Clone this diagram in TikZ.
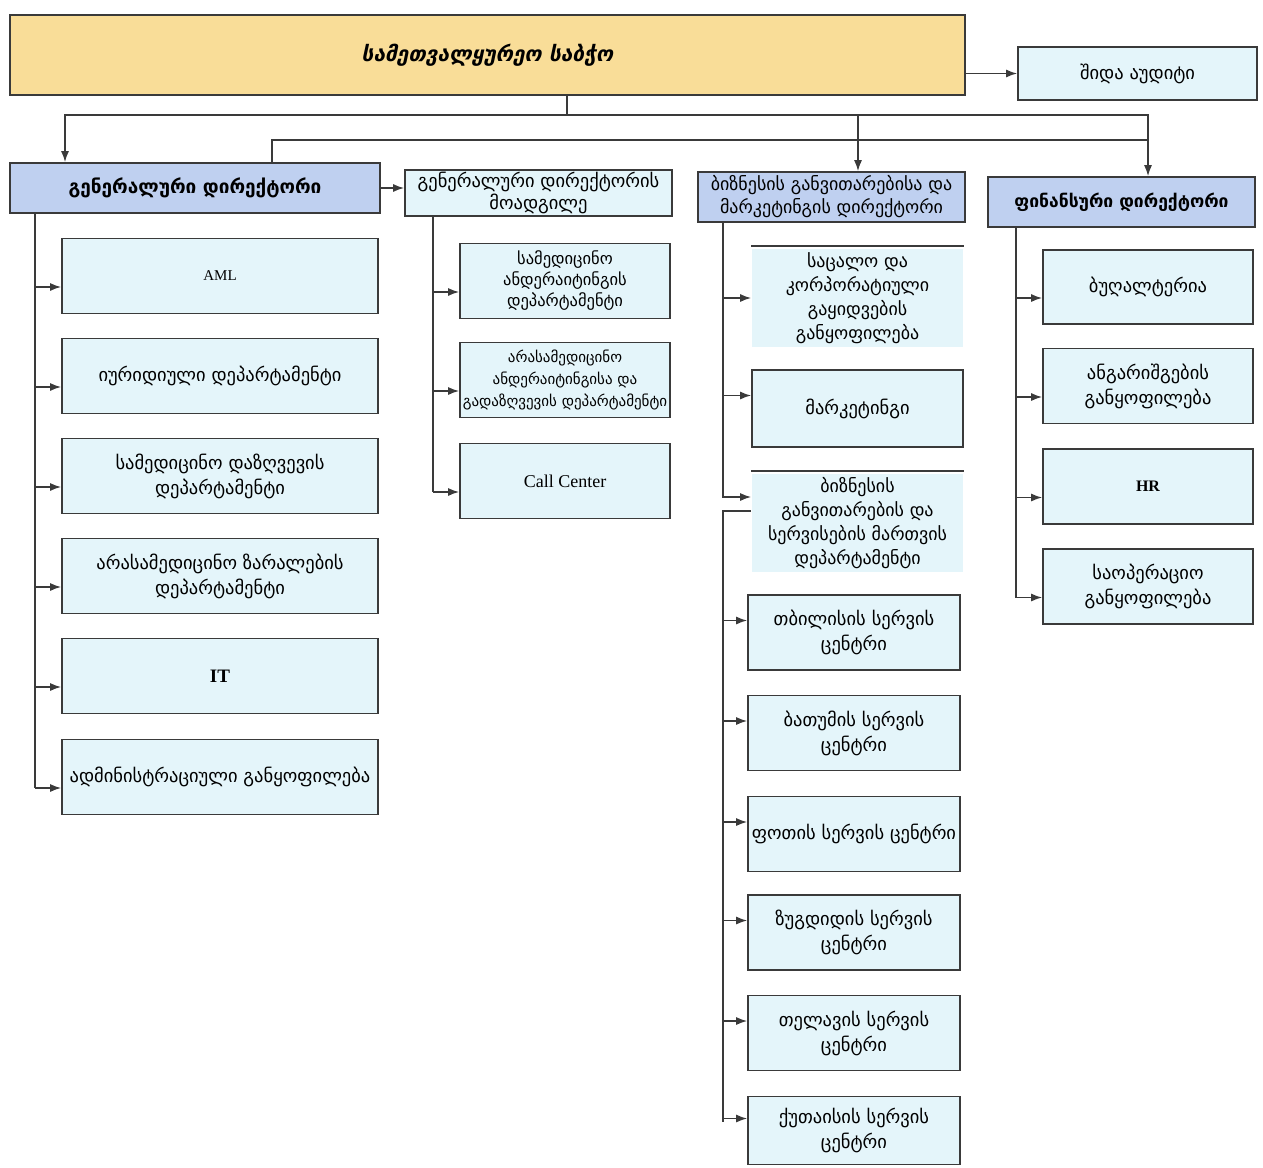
\documentclass[tikz,border=0pt]{standalone}
\usepackage{fontspec}
\setmainfont{DejaVu Sans}
\newfontfamily\latinfont{Liberation Serif}
\usetikzlibrary{arrows.meta,calc}
\definecolor{boardyellow}{HTML}{F9DD98}
\definecolor{headblue}{HTML}{BFD0F0}
\definecolor{unitcyan}{HTML}{E4F5FA}
\definecolor{linegray}{HTML}{3A3A3A}

\begin{document}
\begin{tikzpicture}[x=1pt,y=-1pt,>={Latex[length=11pt,width=8pt]}]
\tikzset{
	box line/.style = {draw=linegray, line width=1.6pt},
	board node/.style = {box line, fill=boardyellow, inner sep=0, align=center, font=\fontsize{21}{24}\selectfont\bfseries\itshape},
	head node/.style = {box line, fill=headblue, inner sep=0, minimum width=267, minimum height=50, align=center, font=\fontsize{18}{23}\selectfont},
	unit node/.style = {box line, fill=unitcyan, inner sep=0, minimum height=75, align=center, font=\fontsize{18.5}{25}\selectfont},
	open node/.style = {unit node, draw=none},
	conn line/.style = {draw=linegray, line width=1.6pt},
}
\useasboundingbox (0,0) rectangle (1263,1167);

\node (board) [board node, minimum width=955, minimum height=80] at (487.5,55) {სამეთვალყურეო საბჭო};
\node (audit) [unit node, minimum width=239, minimum height=53] at (1137.5,73.5) {შიდა აუდიტი};

\node (gd) [head node, minimum width=370, font=\fontsize{19}{22}\selectfont\bfseries] at (195,188) {გენერალური დირექტორი};
\node (dep) [unit node, minimum width=267, minimum height=46, font=\fontsize{18.5}{22}\selectfont] at (538.5,193) {გენერალური დირექტორის\\მოადგილე};
\node (bd) [head node] at (831.5,197) {ბიზნესის განვითარებისა და\\მარკეტინგის დირექტორი};
\node (fd) [head node, font=\fontsize{17.5}{20}\selectfont\bfseries] at (1121.5,202) {ფინანსური დირექტორი};

\node (aml) [unit node, minimum width=316] at (220,276) {\latinfont\fontsize{15}{17}\selectfont AML};
\node (legal) [unit node, minimum width=316] at (220,376) {იურიდიული დეპარტამენტი};
\node (medins) [unit node, minimum width=316] at (220,476) {სამედიცინო დაზღვევის\\დეპარტამენტი};
\node (nonmed) [unit node, minimum width=316] at (220,576) {არასამედიცინო ზარალების\\დეპარტამენტი};
\node (it) [unit node, minimum width=316] at (220,676) {\latinfont\bfseries\fontsize{19}{21}\selectfont IT};
\node (admin) [unit node, minimum width=316] at (220,777) {ადმინისტრაციული განყოფილება};

\node (medund) [unit node, minimum width=210, font=\fontsize{16.5}{21}\selectfont] at (565,281) {სამედიცინო\\ანდერაიტინგის\\დეპარტამენტი};
\node (nmedund) [unit node, minimum width=210, font=\fontsize{15}{22}\selectfont] at (565,380) {არასამედიცინო\\ანდერაიტინგისა და\\გადაზღვევის დეპარტამენტი};
\node (call) [unit node, minimum width=210] at (565,481) {\latinfont\fontsize{18}{20}\selectfont Call Center};

\node (sales) [open node, minimum width=211, minimum height=98, font=\fontsize{18}{24}\selectfont] at (857.5,298) {საცალო და\\კორპორატიული\\გაყიდვების\\განყოფილება};
\node (mkt) [unit node, minimum width=211, minimum height=77] at (857.5,408.5) {მარკეტინგი};
\node (bdd) [open node, minimum width=211, minimum height=98, font=\fontsize{18}{24}\selectfont] at (857.5,523) {ბიზნესის\\განვითარების და\\სერვისების მართვის\\დეპარტამენტი};
\draw [box line] ([yshift=2]sales.north west) -- ([yshift=2]sales.north east);
\draw [box line] ([yshift=2]bdd.north west) -- ([yshift=2]bdd.north east);

\node (tbilisi) [unit node, minimum width=212] at (854,632.5) {თბილისის სერვის\\ცენტრი};
\node (batumi) [unit node, minimum width=212] at (854,733) {ბათუმის სერვის\\ცენტრი};
\node (poti) [unit node, minimum width=212] at (854,834) {ფოთის სერვის ცენტრი};
\node (zugdidi) [unit node, minimum width=212] at (854,932.5) {ზუგდიდის სერვის\\ცენტრი};
\node (telavi) [unit node, minimum width=212] at (854,1033) {თელავის სერვის\\ცენტრი};
\node (kutaisi) [unit node, minimum width=212, minimum height=68] at (854,1130.5) {ქუთაისის სერვის\\ცენტრი};

\node (books) [unit node, minimum width=210, minimum height=74] at (1148,287) {ბუღალტერია};
\node (report) [unit node, minimum width=210] at (1148,386) {ანგარიშგების\\განყოფილება};
\node (hr) [unit node, minimum width=210] at (1148,486.5) {\latinfont\bfseries\fontsize{16}{18}\selectfont HR};
\node (ops) [unit node, minimum width=210] at (1148,586.5) {საოპერაციო\\განყოფილება};

\coordinate (split) at (567,115);
\coordinate (link) at (1148,140);
\draw [conn line] (board.south -| split) -- (split);
\draw [conn line,->] (split) -| ([xshift=-130]gd.north);
\draw [conn line,->] (split) -| ([xshift=26.5]fd.north);
\draw [conn line,->] ([xshift=26.5]bd.north |- split) -- ([xshift=26.5]bd.north);
\draw [conn line] ([xshift=77]gd.north) |- (link);
\draw [conn line,->] (board.east |- audit.west) -- (audit.west);
\draw [conn line,->] (gd.east) -- (gd.east -| dep.west);

\draw [conn line] ([xshift=-160]gd.south) -- ([xshift=-160,yshift=-11]gd.south |- admin.west);
\foreach \n in {aml,legal,medins,nonmed,it,admin}
	\draw [conn line,->] ([xshift=-160,yshift=-11]gd.south |- \n.west) -- ([yshift=-11]\n.west);

\draw [conn line] ([xshift=-105.5]dep.south) -- ([xshift=-105.5,yshift=-11]dep.south |- call.west);
\foreach \n in {medund,nmedund,call}
	\draw [conn line,->] ([xshift=-105.5,yshift=-11]dep.south |- \n.west) -- ([yshift=-11]\n.west);

\draw [conn line,->] ([xshift=-108.5]bd.south) |- ([yshift=26]bdd.west);
\draw [conn line,->] ([xshift=-108.5]bd.south |- sales.west) -- (sales.west);
\draw [conn line,->] ([xshift=-108.5,yshift=13]bd.south |- mkt.west) -- ([yshift=13]mkt.west);
\draw [conn line] ([yshift=12]bdd.west) -| ([xshift=-108.5,yshift=9]bd.south |- kutaisi.west);
\foreach \n in {tbilisi,batumi,poti,zugdidi,telavi,kutaisi}
	\draw [conn line,->] ([xshift=-108.5,yshift=12]bd.south |- \n.west) -- ([yshift=12]\n.west);

\draw [conn line] ([xshift=-105.5]fd.south) -- ([xshift=-105.5,yshift=-11]fd.south |- ops.west);
\foreach \n in {books,report,hr,ops}
	\draw [conn line,->] ([xshift=-105.5,yshift=-11]fd.south |- \n.west) -- ([yshift=-11]\n.west);

\end{tikzpicture}
\end{document}
